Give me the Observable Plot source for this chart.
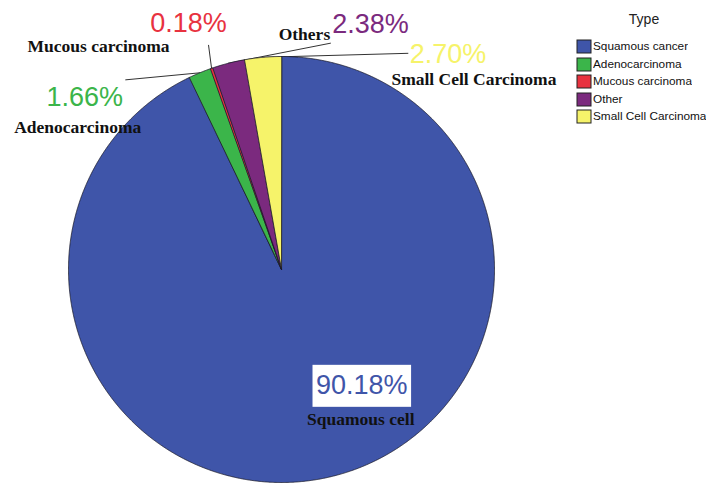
<!DOCTYPE html>
<html><head><meta charset="utf-8">
<script src="https://cdn.jsdelivr.net/npm/d3@7"></script>
<script src="https://cdn.jsdelivr.net/npm/@observablehq/plot@0.6"></script>
<style>
body{margin:0;background:#fff;}
#wrap{position:relative;width:709px;height:484px;overflow:hidden;background:#fff}
#legendTitle{position:absolute;left:577px;width:134px;top:11px;text-align:center;font:14px "Liberation Sans",Arial,sans-serif;color:#222}
#legend{position:absolute;left:577px;top:38px;width:150px}
#legend .lg-swatches{font-family:"Liberation Sans",Arial,sans-serif;font-size:11.8px;color:#111;margin:0}
#legend .lg-swatch{height:17.5px;line-height:17.5px;padding:0;margin:0}
#legend .lg-swatch > svg{margin-right:2px}
</style></head><body><div id="wrap"></div>
<script>
// ---- data ----
const types = ["Squamous cancer","Adenocarcinoma","Mucous carcinoma","Other","Small Cell Carcinoma"];
const percents = [90.18, 1.66, 0.18, 2.38, 2.70];
const percentLabels = ["90.18%","1.66%","0.18%","2.38%","2.70%"];
const sliceNames = ["Squamous cell","Adenocarcinoma","Mucous carcinoma","Others","Small Cell Carcinoma"];
const colors = ["#3f55a9","#3bb54a","#e8323f","#7b2a7e","#f6f36a"];

// ---- layout (pixels) ----
const W = 709, H = 484, CX = 281, CY = 269, R = 213;
// offsets relative to each slice's outer mid point
const layout = [
  {pct:[33,-92], name:[32,-58], leader:null},
  {pct:[-115,25], name:[-122,55], leader:[-74,7]},
  {pct:[-23,-45], name:[-113,-22], leader:[-3,-23]},
  {pct:[142,-39], name:[76,-29], leader:[102,-20]},
  {pct:[185,-3], name:[211,22], leader:[145,-4]}
];

const data = types.map((t,i)=>({type:t, value:percents[i], pct:percentLabels[i], name:sliceNames[i]}));
const arcs = d3.pie().sort(null).value(d=>d.value)(data);

const slicePts = [];
arcs.forEach(a=>{
  const t = a.data.type;
  slicePts.push({type:t, x:0, y:0});
  const n = Math.max(2, Math.ceil((a.endAngle-a.startAngle)/0.004));
  for (let i=0;i<=n;i++){
    const ang = a.startAngle + (a.endAngle-a.startAngle)*i/n;
    slicePts.push({type:t, x:Math.sin(ang), y:Math.cos(ang)});
  }
});

const mids = arcs.map(a=>{
  const m = (a.startAngle+a.endAngle)/2;
  return {x:Math.sin(m), y:Math.cos(m)};
});
const off = (p,o)=>({x:p.x + o[0]/R, y:p.y - o[1]/R});

const pctPts = arcs.map((a,i)=>({type:a.data.type, text:a.data.pct, ...off(mids[i], layout[i].pct)}));
const namePts = arcs.map((a,i)=>({type:a.data.type, text:a.data.name, ...off(mids[i], layout[i].name)}));
const leaders = [];
arcs.forEach((a,i)=>{
  if (!layout[i].leader) return;
  leaders.push({type:a.data.type, ...mids[i]});
  leaders.push({type:a.data.type, ...off(mids[i], layout[i].leader)});
});

const chart = Plot.plot({
  width: W, height: H, margin: 0,
  x: {domain: [-CX/R, (W-CX)/R], axis: null},
  y: {domain: [-(H-CY)/R, CY/R], axis: null},
  color: {domain: types, range: colors},
  style: {background: "white", overflow: "visible"},
  marks: [
    Plot.line(leaders, {x:"x", y:"y", z:"type", stroke:"#333", strokeWidth:1}),
    Plot.line(slicePts, {x:"x", y:"y", z:"type", fill:"type", stroke:"#1a1a2a", strokeWidth:0.8, curve:"linear-closed"}),
    Plot.text(pctPts, {x:"x", y:"y", text:"text", fill:"type", fontSize:27, fontFamily:'"Liberation Sans", Arial, sans-serif'}),
    Plot.text(namePts, {x:"x", y:"y", text:"text", fill:"#111", fontSize:17.5, fontWeight:"bold", fontFamily:'"Liberation Serif", "Times New Roman", serif'})
  ]
});

const wrap = document.getElementById("wrap");
wrap.appendChild(chart);

// white box behind the main percentage label
chart.querySelectorAll("text").forEach(t=>{
  if (t.textContent === percentLabels[0]) {
    const b = t.getBBox();
    const cy = b.y + b.height/2;
    const r = document.createElementNS("http://www.w3.org/2000/svg","rect");
    r.setAttribute("x", b.x-3.5); r.setAttribute("y", cy-20);
    r.setAttribute("width", b.width+7); r.setAttribute("height", 42);
    r.setAttribute("fill", "white");
    if (t.getAttribute("transform")) r.setAttribute("transform", t.getAttribute("transform"));
    t.parentNode.insertBefore(r, t);
  }
});

const title = document.createElement("div");
title.id = "legendTitle"; title.textContent = "Type";
wrap.appendChild(title);

const legend = Plot.legend({
  color: {domain: types, range: colors},
  legend: "swatches", columns: 1, swatchWidth: 14, swatchHeight: 13, className: "lg"
});
const lwrap = document.createElement("div");
lwrap.id = "legend";
lwrap.appendChild(legend);
wrap.appendChild(lwrap);
legend.querySelectorAll("rect").forEach(r=>{ r.setAttribute("stroke","#222"); r.setAttribute("stroke-width","1"); });
</script></body></html>
